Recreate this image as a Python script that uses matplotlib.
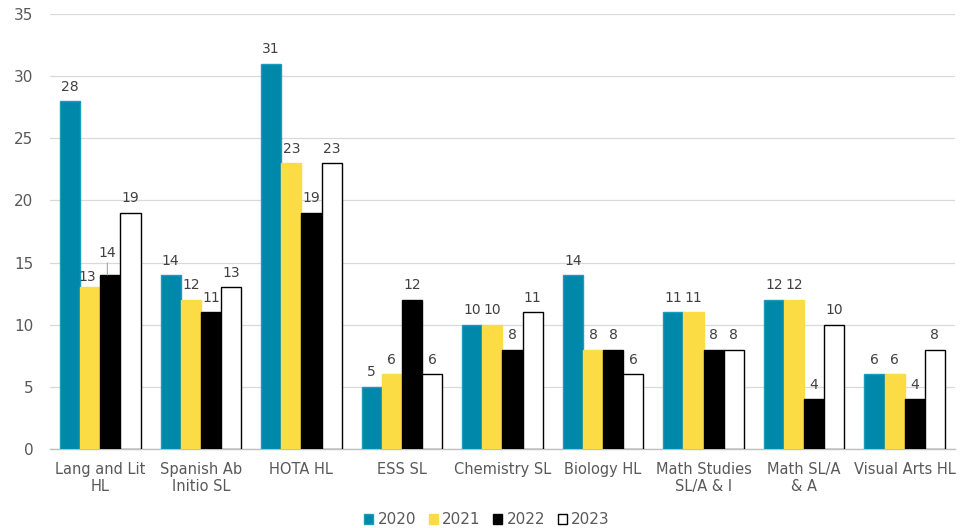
import numpy as np
import matplotlib
matplotlib.use('Agg')
import matplotlib.pyplot as plt

# subjects and yearly counts
subjects = ['Lang and Lit\nHL', 'Spanish Ab\nInitio SL', 'HOTA HL', 'ESS SL',
            'Chemistry SL', 'Biology HL', 'Math Studies\nSL/A & I',
            'Math SL/A\n& A', 'Visual Arts HL']
years = ['2020', '2021', '2022', '2023']
v2020 = [28, 14, 31, 5, 10, 14, 11, 12, 6]
v2021 = [13, 12, 23, 6, 10, 8, 11, 12, 6]
v2022 = [14, 11, 19, 12, 8, 8, 8, 4, 4]
v2023 = [19, 13, 23, 6, 11, 6, 8, 10, 8]

series = [v2020, v2021, v2022, v2023]
colors = ['#0088AA', '#FBDC45', '#000000', '#FFFFFF']
edges = ['#1C9BBB', '#FBDC45', '#000000', '#000000']
text_col = '#595959'

plt.rcParams['font.family'] = ['DejaVu Sans']

fig = plt.figure(figsize=(9.74, 5.28), dpi=100)
ax = fig.add_axes([0.0514, 0.1496, 0.929, 0.8239])

x = np.arange(len(subjects))
w = 0.2
for i, (vals, c, ec) in enumerate(zip(series, colors, edges)):
    pos = x + (i - 1.5) * w
    ax.bar(pos, vals, width=w, color=c, edgecolor=ec, linewidth=1.0,
           label=years[i], zorder=3)
    for j, (p, v) in enumerate(zip(pos, vals)):
        if j == 0 and i == 1:
            ax.text(p - 0.03, v + 0.3, str(v), ha='center', va='bottom',
                    fontsize=10, color='#404040')
        elif j == 0 and i == 2:
            ax.annotate(str(v), xy=(p - 0.03, v), xytext=(p - 0.03, v + 1.2),
                        ha='center', va='bottom', fontsize=10, color='#404040',
                        arrowprops=dict(arrowstyle='-', color='#A6A6A6', lw=0.8,
                                        shrinkA=0, shrinkB=0))
        else:
            ax.text(p, v + 0.6, str(v), ha='center', va='bottom',
                    fontsize=10, color='#404040')

ax.set_xlim(-0.5, len(subjects) - 0.5)
ax.set_ylim(0, 35)
ax.set_yticks(range(0, 36, 5))
ax.set_xticks(x)
ax.set_xticklabels(subjects, fontsize=10.5, color=text_col)
ax.tick_params(axis='y', labelsize=11, colors=text_col, length=0, pad=12)
ax.tick_params(axis='x', length=0, pad=9)
ax.grid(axis='y', color='#D9D9D9', linewidth=0.9, zorder=0)
for s in ['top', 'right', 'left']:
    ax.spines[s].set_visible(False)
ax.spines['bottom'].set_color('#BFBFBF')
ax.spines['bottom'].set_linewidth(1.0)

leg = fig.legend(loc='lower center', bbox_to_anchor=(0.5, -0.025), ncol=4,
                 frameon=False, fontsize=11, handlelength=0.6,
                 handleheight=0.6, handletextpad=0.3, columnspacing=0.8)
for t in leg.get_texts():
    t.set_color(text_col)

fig.savefig('out.png', dpi=100)
